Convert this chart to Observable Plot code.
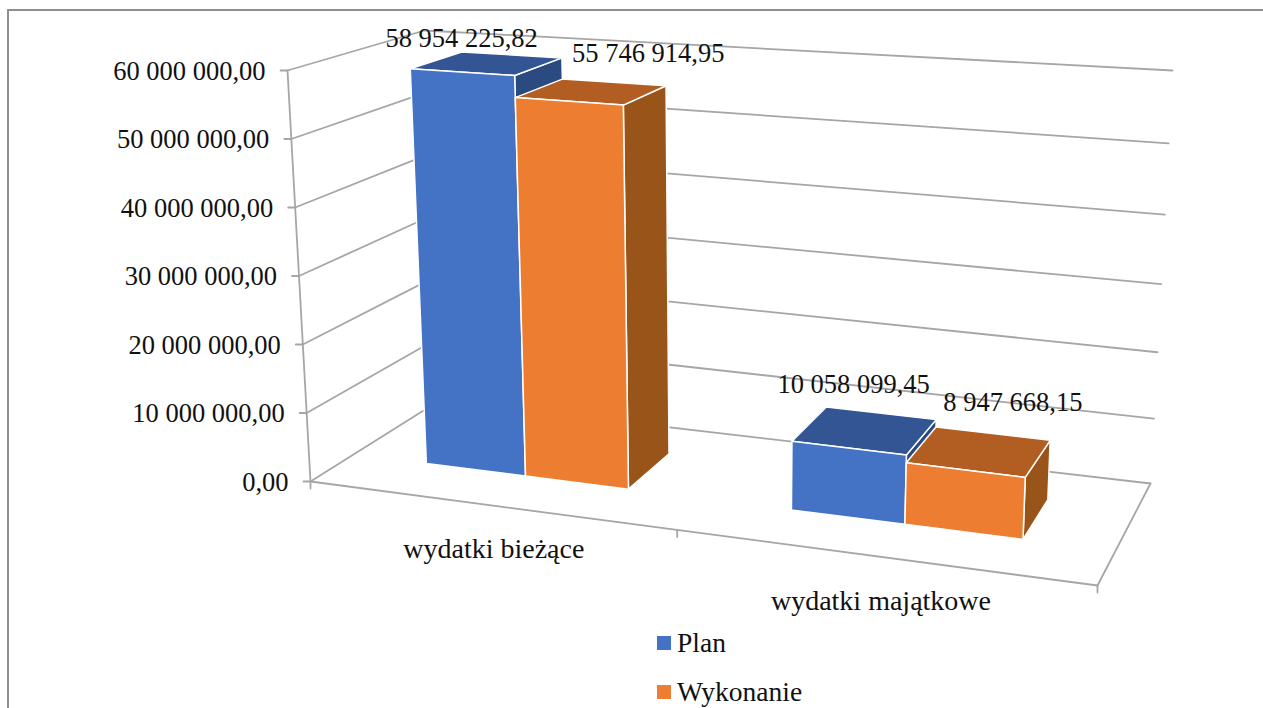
<!DOCTYPE html>
<html>
<head>
<meta charset="utf-8">
<script src="https://cdn.jsdelivr.net/npm/d3@7"></script>
<script src="https://cdn.jsdelivr.net/npm/@observablehq/plot@0.6"></script>
<style>
  html, body { margin: 0; padding: 0; background: #fff; width: 1263px; height: 708px; overflow: hidden; }
  #frame { position: absolute; left: 7px; top: 9px; right: -4px; bottom: -4px; border: 2px solid #8f8f8f; border-right: none; border-bottom: none; }
  #chart { position: absolute; left: 0; top: 0; }
  #chart svg { background: transparent !important; display: block; }
  .lg { position: absolute; left: 657px; font: 27.5px "Liberation Serif", serif; color: #111; display: flex; align-items: center; height: 26px; }
  .lg i { display: inline-block; width: 14px; height: 14px; margin-right: 6px; }
</style>
</head>
<body>
<div id="frame"></div>
<div id="chart"></div>
<div id="legend"></div>
<script>
// --- data
const categories = ["wydatki bieżące", "wydatki majątkowe"];
const seriesNames = ["Plan", "Wykonanie"];
const plan = [58954225.82, 10058099.45];
const wykonanie = [55746914.95, 8947668.15];
const valueTicks = [0, 10000000, 20000000, 30000000, 40000000, 50000000, 60000000];
const valueMax = 60000000;

// --- styling
const frontColors = ["#4472C4", "#ED7D31"];
const topColors = ["#335593", "#B25E23"];
const sideColors = ["#2B4A80", "#985419"];
const gridColor = "#a6a6a6";
const font = "Liberation Serif";
const numberSize = 26.5;
const categorySize = 28;

// --- camera of the 3-D box: eight corners, [category axis end][value end][depth end]
const box = {
  flb: [310, 481], flt: [287, 70], frb: [1097, 585], frt: [1117, 125],
  blb: [439, 400], blt: [424, 30], brb: [1150, 483], brt: [1172, 70]
};
const lerp = (a, b, t) => a + (b - a) * t;
const warpC = 1.146, warpV = 0.07;
function project(s, v, d) {
  const u = s / (s + warpC * (1 - s));
  const w = v - warpV * u * v * (1 - v);
  return [0, 1].map(i => {
    const fb = lerp(box.flb[i], box.frb[i], u), ft = lerp(box.flt[i], box.frt[i], u);
    const bb = lerp(box.blb[i], box.brb[i], u), bt = lerp(box.blt[i], box.brt[i], u);
    return lerp(lerp(fb, ft, w), lerp(bb, bt, w), d);
  });
}

// --- bars layout in the box
const catCenters = [0.25, 0.75];
const barWidth = 0.1425;
const barNear = 0.337, barFar = 0.736;
const seriesValues = [plan, wykonanie];

const faces = [];
let faceId = 0;
function addFace(corners, fill) {
  const id = faceId++;
  [...corners, corners[0]].forEach(p => faces.push({ x: p[0], y: p[1], id, fill }));
}
catCenters.forEach((c, ci) => {
  seriesValues.forEach((vals, si) => {
    const s0 = c + (si - 1) * barWidth, s1 = s0 + barWidth, h = vals[ci] / valueMax;
    addFace([project(s1, 0, barNear), project(s1, 0, barFar), project(s1, h, barFar), project(s1, h, barNear)], sideColors[si]);
    addFace([project(s0, h, barNear), project(s0, h, barFar), project(s1, h, barFar), project(s1, h, barNear)], topColors[si]);
    addFace([project(s0, 0, barNear), project(s1, 0, barNear), project(s1, h, barNear), project(s0, h, barNear)], frontColors[si]);
  });
});

// --- walls, grid and ticks
const grid = [];
const tickLen = 7;
valueTicks.forEach(t => {
  const v = t / valueMax;
  const a = project(0, v, 0), b = project(0, v, 1), c = project(1, v, 1);
  [[a[0] - tickLen, a[1]], a, b, c].forEach(p => grid.push({ x: p[0], y: p[1], id: "g" + t }));
});
[project(0, 0, 0), project(0, 1, 0)].forEach(p => grid.push({ x: p[0], y: p[1], id: "axis" }));
[project(0, 0, 0), project(1, 0, 0), project(1, 0, 1)].forEach(p => grid.push({ x: p[0], y: p[1], id: "floor" }));
[0, 0.5, 1].forEach(s => {
  const p = project(s, 0, 0);
  grid.push({ x: p[0], y: p[1], id: "t" + s }, { x: p[0], y: p[1] + tickLen, id: "t" + s });
});

// --- texts
const fmt = n => {
  const [i, f] = n.toFixed(2).split(".");
  return i.replace(/\B(?=(\d{3})+(?!\d))/g, " ") + "," + f;
};
const tickTexts = valueTicks.map(t => {
  const p = project(0, t / valueMax, 0);
  return { x: p[0] - 22, y: p[1] + 1, text: fmt(t) };
});
const catOffsets = [6, 1];
const catTexts = categories.map((name, i) => {
  const p = project(catCenters[i], 0, 0);
  return { x: p[0] + catOffsets[i], y: p[1] + 44, text: name };
});
const labelOffsets = [[[-25, -25], [57, -38]], [[-11, -46], [34, -49]]];
const valueTexts = [];
catCenters.forEach((c, ci) => seriesValues.forEach((vals, si) => {
  const p = project(c + (si - 0.5) * barWidth, vals[ci] / valueMax, (barNear + barFar) / 2);
  const o = labelOffsets[ci][si];
  valueTexts.push({ x: p[0] + o[0], y: p[1] + o[1], text: fmt(vals[ci]) });
}));

const textStyle = { x: "x", y: "y", text: "text", fontFamily: font, fill: "#111" };

const chart = Plot.plot({
  width: 1263, height: 625, margin: 0,
  style: { background: "transparent", overflow: "visible" },
  x: { type: "identity", axis: null },
  y: { type: "identity", axis: null },
  color: { type: "identity" },
  marks: [
    Plot.line(grid, { x: "x", y: "y", z: "id", stroke: gridColor, strokeWidth: 1.8, curve: "linear" }),
    Plot.line(faces, { x: "x", y: "y", z: "id", fill: "fill", stroke: "#fff", strokeWidth: 1.5, curve: "linear" }),
    Plot.text(tickTexts, { ...textStyle, fontSize: numberSize, textAnchor: "end" }),
    Plot.text(catTexts, { ...textStyle, fontSize: categorySize, textAnchor: "middle" }),
    Plot.text(valueTexts, { ...textStyle, fontSize: numberSize, textAnchor: "middle" })
  ]
});
document.getElementById("chart").appendChild(chart);

// --- legend below the plot
const legend = document.getElementById("legend");
seriesNames.forEach((name, i) => {
  const row = document.createElement("div");
  row.className = "lg";
  row.style.top = (630 + i * 49) + "px";
  const sw = document.createElement("i");
  sw.style.background = frontColors[i];
  row.appendChild(sw);
  row.appendChild(document.createTextNode(name));
  legend.appendChild(row);
});
</script>
</body>
</html>
